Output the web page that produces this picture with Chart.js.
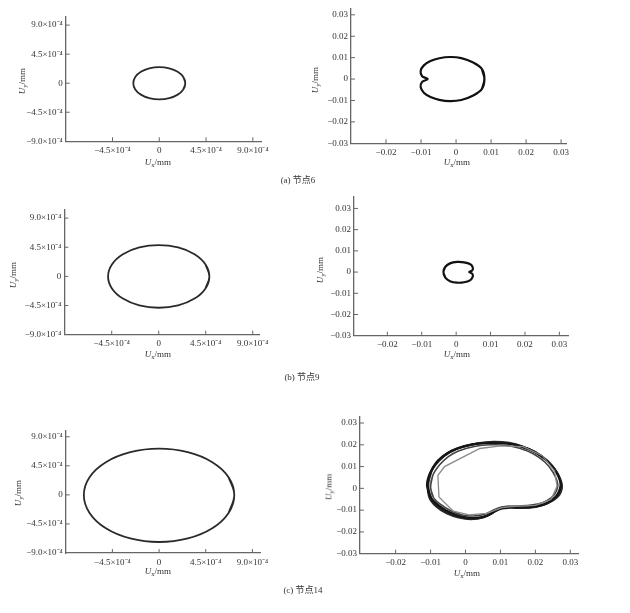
<!DOCTYPE html>
<html>
<head>
<meta charset="utf-8">
<script src="https://cdn.jsdelivr.net/npm/chart.js@4.4.0/dist/chart.umd.min.js"></script>
<style>
  body { margin: 0; background: #fff; width: 630px; height: 613px; position: relative; overflow: hidden;
         font-family: "Liberation Serif", "Noto Sans CJK SC", serif; color: #333; }
  canvas { position: absolute; left: 0; top: 0; }
  .t { position: absolute; font-size: 9px; white-space: nowrap; transform: translate(-50%, -50%); }
  .t sub { font-size: 6.5px; vertical-align: -2px; }
  .ty { transform: translate(-50%, -50%) rotate(-90deg); }
</style>
</head>
<body>
<script>
// tick values and labels
const smallXTicks = [-4.5e-4, 0, 4.5e-4, 9.0e-4];
const smallXLabels = ['\u22124.5\u00d710\u207b\u2074', '0', '4.5\u00d710\u207b\u2074', '9.0\u00d710\u207b\u2074'];
const smallYTicks = [-9.0e-4, -4.5e-4, 0, 4.5e-4, 9.0e-4];
const smallYLabels = ['\u22129.0\u00d710\u207b\u2074', '\u22124.5\u00d710\u207b\u2074', '0', '4.5\u00d710\u207b\u2074', '9.0\u00d710\u207b\u2074'];
const bigXTicks = [-0.02, -0.01, 0, 0.01, 0.02, 0.03];
const bigXLabels = ['\u22120.02', '\u22120.01', '0', '0.01', '0.02', '0.03'];
const bigYTicks = [-0.03, -0.02, -0.01, 0, 0.01, 0.02, 0.03];
const bigYLabels = ['\u22120.03', '\u22120.02', '\u22120.01', '0', '0.01', '0.02', '0.03'];
const captions = ['(a) 节点6', '(b) 节点9', '(c) 节点14'];

// node 6
const node6LeftX = [2.5e-4, 2.31e-4, 1.77e-4, 0.96e-4, 0, -0.96e-4, -1.77e-4, -2.31e-4, -2.5e-4, -2.31e-4, -1.77e-4, -0.96e-4, 0, 0.96e-4, 1.77e-4, 2.31e-4, 2.5e-4];
const node6LeftY = [0, 0.96e-4, 1.77e-4, 2.31e-4, 2.5e-4, 2.31e-4, 1.77e-4, 0.96e-4, 0, -0.96e-4, -1.77e-4, -2.31e-4, -2.5e-4, -2.31e-4, -1.77e-4, -0.96e-4, 0];
const node6RightX = [0.0081, 0.0074, 0.0049, 0.0015, -0.0018, -0.0048, -0.0073, -0.0092, -0.0101, -0.0097, -0.0081, -0.0097, -0.0101, -0.0092, -0.0073, -0.0048, -0.0018, 0.0015, 0.0049, 0.0074, 0.0081];
const node6RightY = [0, 0.0046, 0.0077, 0.0098, 0.0103, 0.0097, 0.0084, 0.0064, 0.0038, 0.0013, 0, -0.0013, -0.0038, -0.0064, -0.0084, -0.0097, -0.0103, -0.0098, -0.0077, -0.0046, 0];

// node 9
const node9LeftX = [4.85e-4, 4.48e-4, 3.43e-4, 1.86e-4, 0, -1.86e-4, -3.43e-4, -4.48e-4, -4.85e-4, -4.48e-4, -3.43e-4, -1.86e-4, 0, 1.86e-4, 3.43e-4, 4.48e-4, 4.85e-4];
const node9LeftY = [0, 1.85e-4, 3.42e-4, 4.47e-4, 4.84e-4, 4.47e-4, 3.42e-4, 1.85e-4, 0, -1.85e-4, -3.42e-4, -4.47e-4, -4.84e-4, -4.47e-4, -3.42e-4, -1.85e-4, 0];
const node9RightX = [-0.0037, -0.0032, -0.0018, 0.0003, 0.0023, 0.0040, 0.0048, 0.0047, 0.0038, 0.0047, 0.0048, 0.0040, 0.0023, 0.0003, -0.0018, -0.0032, -0.0037];
const node9RightY = [0, 0.0024, 0.0041, 0.0048, 0.0046, 0.0038, 0.0023, 0.0008, 0, -0.0008, -0.0023, -0.0039, -0.0048, -0.0050, -0.0043, -0.0025, 0];

// node 14
const node14LeftX = [7.25e-4, 6.70e-4, 5.13e-4, 2.77e-4, 0, -2.77e-4, -5.13e-4, -6.70e-4, -7.25e-4, -6.70e-4, -5.13e-4, -2.77e-4, 0, 2.77e-4, 5.13e-4, 6.70e-4, 7.25e-4];
const node14LeftY = [0, 2.74e-4, 5.06e-4, 6.61e-4, 7.15e-4, 6.61e-4, 5.06e-4, 2.74e-4, 0, -2.79e-4, -5.16e-4, -6.74e-4, -7.30e-4, -6.74e-4, -5.16e-4, -2.79e-4, 0];
const node14RightX = [-0.0110, -0.0103, -0.0083, -0.0055, -0.0025, 0.0020, 0.0070, 0.0115, 0.0156, 0.0198, 0.0232, 0.0258, 0.0272, 0.0265, 0.0250, 0.0225, 0.0190, 0.0155, 0.0125, 0.0105, 0.0085, 0.0060, 0.0025, -0.0010, -0.0045, -0.0075, -0.0098, -0.0110];
const node14RightY = [0.0010, 0.0065, 0.0120, 0.0158, 0.0183, 0.0202, 0.0209, 0.0206, 0.0194, 0.0168, 0.0129, 0.0080, 0.0022, -0.0022, -0.0050, -0.0073, -0.0085, -0.0089, -0.0089, -0.0092, -0.0105, -0.0126, -0.0136, -0.0130, -0.0110, -0.0080, -0.0045, 0.0010];
const node14Right2X = [-0.0106, -0.0097, -0.0075, -0.0045, -0.0010, 0.0035, 0.0080, 0.0125, 0.0165, 0.0205, 0.0238, 0.0263, 0.0276, 0.0269, 0.0247, 0.0218, 0.0182, 0.0148, 0.0120, 0.0098, 0.0078, 0.0050, 0.0015, -0.0020, -0.0054, -0.0083, -0.0104, -0.0106];
const node14Right2Y = [0.0025, 0.0080, 0.0128, 0.0165, 0.0190, 0.0207, 0.0214, 0.0209, 0.0191, 0.0161, 0.0121, 0.0070, 0.0015, -0.0029, -0.0059, -0.0079, -0.0089, -0.0087, -0.0085, -0.0091, -0.0112, -0.0134, -0.0142, -0.0134, -0.0115, -0.0085, -0.0040, 0.0025];
const node14Right3X = [-0.0100, -0.0094, -0.0074, -0.0049, -0.0020, 0.0025, 0.0070, 0.0115, 0.0155, 0.0195, 0.0227, 0.0250, 0.0264, 0.0258, 0.0244, 0.0220, 0.0188, 0.0154, 0.0126, 0.0104, 0.0082, 0.0056, 0.0023, -0.0010, -0.0042, -0.0070, -0.0092, -0.0100];
const node14Right3Y = [0.0005, 0.0058, 0.0108, 0.0146, 0.0172, 0.0192, 0.0200, 0.0198, 0.0184, 0.0158, 0.0121, 0.0075, 0.0020, -0.0019, -0.0045, -0.0066, -0.0077, -0.0081, -0.0082, -0.0086, -0.0098, -0.0118, -0.0127, -0.0122, -0.0103, -0.0075, -0.0041, 0.0005];
const node14Right4X = [-0.0108, -0.0100, -0.0080, -0.0052, -0.0018, 0.0028, 0.0075, 0.0120, 0.0160, 0.0201, 0.0235, 0.0260, 0.0274, 0.0267, 0.0249, 0.0222, 0.0186, 0.0152, 0.0122, 0.0101, 0.0081, 0.0055, 0.0020, -0.0015, -0.0050, -0.0079, -0.0101, -0.0108];
const node14Right4Y = [0.0018, 0.0072, 0.0124, 0.0162, 0.0186, 0.0204, 0.0211, 0.0207, 0.0192, 0.0164, 0.0125, 0.0075, 0.0018, -0.0025, -0.0054, -0.0076, -0.0087, -0.0088, -0.0087, -0.0091, -0.0108, -0.0130, -0.0139, -0.0132, -0.0112, -0.0082, -0.0043, 0.0018];
const node14GreyX = [-0.0076, -0.0079, -0.0060, 0.0041, 0.0100, 0.0165, 0.0220, 0.0255, 0.0262, 0.0245, 0.0200, 0.0140, 0.0105, 0.0060, 0.0010, -0.0035, -0.0076];
const node14GreyY = [-0.0040, 0.0060, 0.0100, 0.0183, 0.0195, 0.0192, 0.0150, 0.0080, 0.0010, -0.0050, -0.0078, -0.0083, -0.0088, -0.0115, -0.0122, -0.0105, -0.0040];

const YW = 50, XH = 24;
const FONT = '"Liberation Serif", "Times New Roman", serif';

const smallLine = { color: '#2a2a2a', width: 1.8, tension: 0.4 };
const bigLine = { color: '#111', width: 2.2, tension: 0.35 };

const panels = [
  { box: [65.7, 16.7, 261.7, 141.3], x: [-9.0e-4, 9.85e-4], y: [-9.0e-4, 1.03e-3], small: true,
    series: [[node6LeftX, node6LeftY, smallLine]], xt: [158, 162], yt: [21.5, 81] },
  { box: [351, 6.7, 566.7, 143.3], x: [-0.030, 0.0316], y: [-0.030, 0.033], small: false,
    series: [[node6RightX, node6RightY, bigLine]], xt: [457, 162], yt: [315, 80] },
  { box: [64.3, 209.3, 259.3, 334.7], x: [-9.04e-4, 9.63e-4], y: [-9.0e-4, 1.036e-3], small: true,
    series: [[node9LeftX, node9LeftY, smallLine]], xt: [158, 354], yt: [12.5, 275] },
  { box: [354, 197, 568.3, 335.7], x: [-0.0297, 0.0326], y: [-0.030, 0.0354], small: false,
    series: [[node9RightX, node9RightY, bigLine]], xt: [457, 354], yt: [319.5, 270] },
  { box: [65.7, 430.7, 260, 553], x: [-9.0e-4, 9.73e-4], y: [-9.0e-4, 9.94e-4], small: true,
    series: [[node14LeftX, node14LeftY, smallLine]], xt: [158, 571], yt: [18, 493] },
  { box: [360, 416.7, 578.7, 553.7], x: [-0.0302, 0.0324], y: [-0.030, 0.0329], small: false,
    series: [
      [node14GreyX, node14GreyY, { color: '#8a8a8a', width: 1.3, tension: 0 }],
      [node14Right3X, node14Right3Y, { color: '#444', width: 1.6, tension: 0.35 }],
      [node14RightX, node14RightY, { color: '#151515', width: 2.2, tension: 0.35 }],
      [node14Right4X, node14Right4Y, { color: '#222', width: 2, tension: 0.35 }],
      [node14Right2X, node14Right2Y, { color: '#2b2b2b', width: 2, tension: 0.35 }]
    ], xt: [467, 572.5], yt: [329, 487] }
];
const captionPos = [[298, 179], [302, 376], [303, 589]];

// closed loops: wrap one point on each end so the spline has no corner where it closes
function closedLoop(xs, ys, wrap) {
  const pts = xs.map((v, i) => ({ x: v, y: ys[i] }));
  if (!wrap) return pts;
  const n = pts.length;
  return [pts[n - 2], ...pts, pts[1]];
}

// tick marks point into the plot
const inwardTicks = {
  id: 'inwardTicks',
  afterDraw(chart) {
    const ctx = chart.ctx, a = chart.chartArea;
    const xs = chart.scales.x, ys = chart.scales.y;
    ctx.save();
    ctx.strokeStyle = '#666';
    ctx.lineWidth = 1;
    ctx.beginPath();
    xs.ticks.forEach(t => {
      const px = xs.getPixelForValue(t.value);
      ctx.moveTo(px, a.bottom); ctx.lineTo(px, a.bottom - 4);
    });
    ys.ticks.forEach(t => {
      if (t.value === ys.min) return;
      const py = ys.getPixelForValue(t.value);
      ctx.moveTo(a.left, py); ctx.lineTo(a.left + 4, py);
    });
    ctx.stroke();
    ctx.restore();
  }
};

function addText(html, x, y, cls) {
  const d = document.createElement('div');
  d.className = cls;
  d.style.left = x + 'px';
  d.style.top = y + 'px';
  d.innerHTML = html;
  document.body.appendChild(d);
}

panels.forEach(p => {
  const cv = document.createElement('canvas');
  cv.width = 630; cv.height = 613;
  document.body.appendChild(cv);
  const [L, T, R, B] = p.box;
  const xTicks = p.small ? smallXTicks : bigXTicks;
  const xLabels = p.small ? smallXLabels : bigXLabels;
  const yTicks = p.small ? smallYTicks : bigYTicks;
  const yLabels = p.small ? smallYLabels : bigYLabels;
  const tickFont = { family: FONT, size: 9 };

  new Chart(cv.getContext('2d'), {
    type: 'scatter',
    data: {
      datasets: p.series.map(([xs, ys, st]) => ({
        data: closedLoop(xs, ys, st.tension > 0),
        showLine: true,
        borderColor: st.color,
        borderWidth: st.width,
        tension: st.tension,
        pointRadius: 0,
        fill: false
      }))
    },
    options: {
      responsive: false,
      animation: false,
      events: [],
      layout: { padding: { left: L - YW, top: T, right: 630 - R, bottom: 613 - B - XH } },
      plugins: { legend: { display: false }, tooltip: { enabled: false } },
      scales: {
        x: {
          type: 'linear', min: p.x[0], max: p.x[1],
          afterBuildTicks: s => { s.ticks = xTicks.map(v => ({ value: v })); },
          afterFit: s => { s.height = XH; },
          grid: { display: false, drawTicks: false },
          border: { display: true, color: '#666', width: 1.3 },
          ticks: { padding: 4, color: '#333', font: tickFont, maxRotation: 0, autoSkip: false,
                   callback: (v, i) => xLabels[i] }
        },
        y: {
          type: 'linear', min: p.y[0], max: p.y[1],
          afterBuildTicks: s => { s.ticks = yTicks.map(v => ({ value: v })); },
          afterFit: s => { s.width = YW; },
          grid: { display: false, drawTicks: false },
          border: { display: true, color: '#666', width: 1.3 },
          ticks: { padding: 3, color: '#333', font: tickFont, autoSkip: false,
                   callback: (v, i) => yLabels[i] }
        }
      }
    },
    plugins: [inwardTicks]
  });

  addText('<i>U</i><sub>x</sub>/mm', p.xt[0], p.xt[1], 't');
  addText('<i>U</i><sub>y</sub>/mm', p.yt[0], p.yt[1], 't ty');
});

captions.forEach((c, i) => addText(c, captionPos[i][0], captionPos[i][1], 't'));
</script>
</body>
</html>
